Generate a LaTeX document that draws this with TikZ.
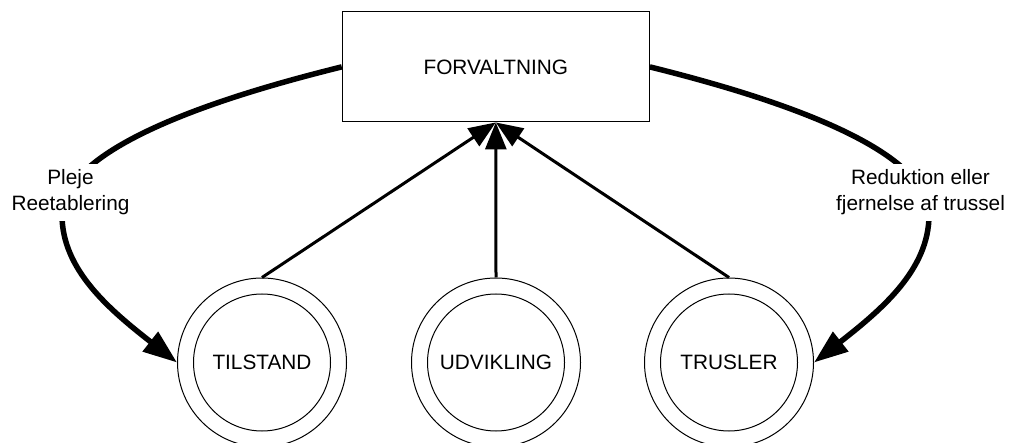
\documentclass[tikz,border=0pt]{standalone}
\usepackage{fontspec}
\setmainfont{Liberation Sans}
\usetikzlibrary{arrows.meta}
\begin{document}
\begin{tikzpicture}[x=1pt,y=-1pt,
  txt/.style={font=\fontsize{20.8}{26}\selectfont},
  mainbox/.style={draw,line width=1.1pt,minimum width=307pt,minimum height=110pt,inner sep=0pt,txt},
  outerring/.style={draw,circle,line width=1pt,minimum size=169pt,inner sep=0pt},
  innerring/.style={draw,circle,line width=1pt,minimum size=137pt,inner sep=0pt,txt},
  feed/.style={line width=3pt,-{Triangle[length=27pt,width=21pt]}},
  action/.style={line width=5.5pt,-{Triangle[length=34pt,width=24pt]}},
  edgelabel/.style={txt,fill=white,align=center,inner sep=6pt}]
\useasboundingbox (0,0) rectangle (1017,443);
\clip (0,0) rectangle (1017,443);

% management box
\node[mainbox] (box) at (495.8,66.9) {FORVALTNING};

% the three double circles
\node[outerring] (tilstand) at (262,362.5) {};
\node[innerring] (tilstandin) at (262,362.5) {TILSTAND};
\node[outerring] (udvikling) at (496,362.5) {};
\node[innerring] (udviklingin) at (496,362.5) {UDVIKLING};
\node[outerring] (trusler) at (729,362.5) {};
\node[innerring] (truslerin) at (729,362.5) {TRUSLER};

% feedback arrows into the box
\draw[feed] (tilstand.north) -- (box.south);
\draw[feed] (udvikling.north) -- (box.south);
\draw[feed] (trusler.north) -- (box.south);

% management actions
\draw[action] (box.west) .. controls (232,94) and (62,145) .. (62,215)
  .. controls (62,270) and (110,310) .. (tilstand.west);
\draw[action] (box.east) .. controls (759,94) and (929,145) .. (929,215)
  .. controls (929,270) and (881,310) .. (trusler.east);

% action labels
\node[edgelabel] (pleje) at (70.5,192.6) {Pleje\\Reetablering};
\node[edgelabel] (reduktion) at (920.5,192.6) {Reduktion eller\\fjernelse af trussel};
\end{tikzpicture}
\end{document}
